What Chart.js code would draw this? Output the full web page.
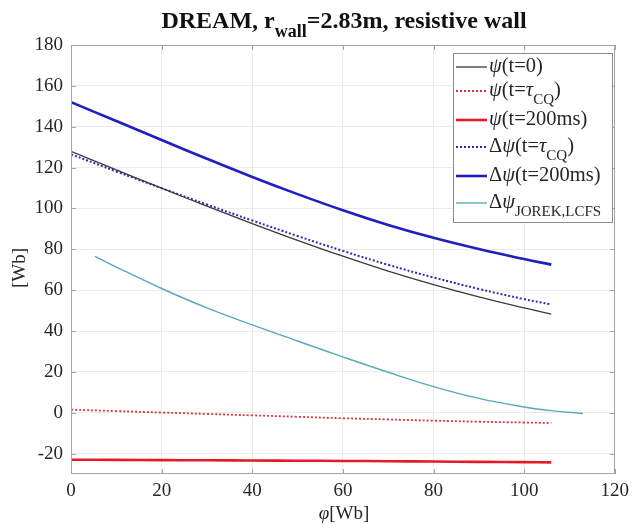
<!DOCTYPE html>
<html><head><meta charset="utf-8">
<script src="https://cdn.jsdelivr.net/npm/chart.js@4/dist/chart.umd.min.js"></script>
<style>html,body{margin:0;padding:0;background:#fff}#wrap{width:635px;height:529px}</style>
</head><body><div id="wrap"><canvas id="c" width="635" height="529"></canvas></div>
<script>
// ---- data ----
const phi      = [0,10,20,30,40,50,60,70,80,90,100,106];
const psiT0    = [128,118.9,109.9,101.1,92.6,84.4,76.6,69.3,62.7,56.7,51.3,48.3];
const psiTcq   = [1.5,0.8,0.1,-0.6,-1.3,-2,-2.7,-3.3,-3.9,-4.4,-4.8,-5];
const psi200   = [-23,-23.1,-23.2,-23.3,-23.4,-23.5,-23.6,-23.75,-23.9,-24.05,-24.2,-24.3];
const dPsiTcq  = [126.5,118.1,109.9,101.9,94.1,86.5,79.2,72.4,66.2,60.6,55.6,53.0];
const dPsi200  = [152,142.8,133.5,124.3,115.4,107,99.1,91.9,85.6,80.1,75.2,72.5];
const phiJorek = [5.3,10,20,30,40,50,60,70,80,90,100,106,113];
const dPsiJorek= [76.5,71.3,60.8,51.3,43,35.1,27.3,19.8,12.8,7.0,2.8,1.0,-0.4];
const xTicks = [0,20,40,60,80,100,120];
const yTicks = [-20,0,20,40,60,80,100,120,140,160,180];

const pts = (xs, ys) => xs.map((x,i)=>({x:x, y:ys[i]}));
const SERIF = '"Liberation Serif","DejaVu Serif",serif';

const series = [
  {data:pts(phi,psiT0),   color:'#3a3a3a', width:1.3, dash:[]},
  {data:pts(phi,psiTcq),  color:'#e0303a', width:1.8, dash:[2,2]},
  {data:pts(phi,psi200),  color:'#e41a26', width:2.6, dash:[]},
  {data:pts(phi,dPsiTcq), color:'#2a2ab4', width:2.0, dash:[2,2]},
  {data:pts(phi,dPsi200), color:'#1f1fbf', width:2.6, dash:[]},
  {data:pts(phiJorek,dPsiJorek), color:'#5aa8bb', width:1.4, dash:[]}
];

const legendRows = [
  [{t:'ψ',i:1},{t:'(t=0)'}],
  [{t:'ψ',i:1},{t:'(t='},{t:'τ',i:1},{t:'CQ',s:1},{t:')'}],
  [{t:'ψ',i:1},{t:'(t=200ms)'}],
  [{t:'Δ'},{t:'ψ',i:1},{t:'(t='},{t:'τ',i:1},{t:'CQ',s:1},{t:')'}],
  [{t:'Δ'},{t:'ψ',i:1},{t:'(t=200ms)'}],
  [{t:'Δ'},{t:'ψ',i:1},{t:'JOREK,LCFS',s:1}]
];

function drawRich(ctx, parts, x, y, size, bold, align){
  const fontOf = p => (p.i?'italic ':'') + (bold?'bold ':'') + (p.s?Math.round(size*0.75):size) + 'px ' + SERIF;
  let total = 0;
  parts.forEach(p=>{ctx.font=fontOf(p); total += ctx.measureText(p.t).width;});
  let cx = align==='center' ? x - total/2 : x;
  ctx.textBaseline='middle'; ctx.textAlign='left';
  parts.forEach(p=>{
    ctx.font=fontOf(p);
    ctx.fillText(p.t, cx, p.s ? y + size*0.42 : y);
    cx += ctx.measureText(p.t).width;
  });
}

const deco = {
  id:'deco',
  beforeDraw(chart){
    const ctx=chart.ctx; ctx.save(); ctx.fillStyle='#fff'; ctx.fillRect(0,0,chart.width,chart.height); ctx.restore();
  },
  afterDraw(chart){
    const ctx=chart.ctx, a=chart.chartArea, xs=chart.scales.x, ys=chart.scales.y;
    ctx.save();
    ctx.strokeStyle='#a3a3a3'; ctx.lineWidth=1;
    ctx.strokeRect(Math.round(a.left)+0.5, Math.round(a.top)+0.5, Math.round(a.right-a.left)-1, Math.round(a.bottom-a.top)-1);
    ctx.beginPath();
    xTicks.forEach(v=>{const px=Math.round(xs.getPixelForValue(v))+0.5;
      ctx.moveTo(px,a.bottom); ctx.lineTo(px,a.bottom-5); ctx.moveTo(px,a.top); ctx.lineTo(px,a.top+5);});
    yTicks.forEach(v=>{const py=Math.round(ys.getPixelForValue(v))+0.5;
      ctx.moveTo(a.left,py); ctx.lineTo(a.left+5,py); ctx.moveTo(a.right,py); ctx.lineTo(a.right-5,py);});
    ctx.stroke();
    // title
    ctx.fillStyle='#111';
    drawRich(ctx,[{t:'DREAM, r'},{t:'wall',s:1},{t:'=2.83m, resistive wall'}],344,22,24,true,'center');
    // axis titles
    ctx.fillStyle='#262626';
    drawRich(ctx,[{t:'φ',i:1},{t:'[Wb]'}],344,514,19,false,'center');
    ctx.save(); ctx.translate(20,268); ctx.rotate(-Math.PI/2);
    drawRich(ctx,[{t:'[Wb]'}],0,0,19,false,'center'); ctx.restore();
    // legend
    const L=453, T=53, R=612, B=222;
    ctx.fillStyle='#fff'; ctx.fillRect(L,T,R-L,B-T);
    ctx.strokeStyle='#8a8a8a'; ctx.lineWidth=1; ctx.strokeRect(L+0.5,T+0.5,R-L,B-T);
    const rowsY=[67,91,120,147,176,203];
    legendRows.forEach((parts,k)=>{
      const s=series[k], y=rowsY[k];
      ctx.strokeStyle=s.color; ctx.lineWidth=s.width; ctx.setLineDash(s.dash);
      ctx.beginPath(); ctx.moveTo(456,y); ctx.lineTo(487,y); ctx.stroke(); ctx.setLineDash([]);
      ctx.fillStyle='#262626';
      drawRich(ctx,parts,489,y,20.5,false,'left');
    });
    ctx.restore();
  }
};

new Chart(document.getElementById('c'), {
  type:'line',
  data:{datasets: series.map(s=>({data:s.data, borderColor:s.color, borderWidth:s.width, borderDash:s.dash,
      pointRadius:0, fill:false, tension:0.4}))},
  options:{
    responsive:false, animation:false, devicePixelRatio:1,
    layout:{padding:{top:45,right:18,left:0,bottom:0}},
    plugins:{legend:{display:false}, title:{display:false}, tooltip:{enabled:false}},
    scales:{
      x:{type:'linear', min:0, max:120,
        afterBuildTicks:s=>{s.ticks=xTicks.map(v=>({value:v}));},
        afterFit:s=>{s.height=55;},
        grid:{color:'#ebebeb', drawTicks:false}, border:{display:false},
        ticks:{padding:6, color:'#262626', font:{family:SERIF,size:19}, maxRotation:0}},
      y:{type:'linear', min:-30, max:180,
        afterBuildTicks:s=>{s.ticks=yTicks.map(v=>({value:v}));},
        afterFit:s=>{s.width=71;},
        grid:{color:'#ebebeb', drawTicks:false}, border:{display:false},
        ticks:{padding:8, color:'#262626', font:{family:SERIF,size:19}}}
    }
  },
  plugins:[deco]
});
</script></body></html>
